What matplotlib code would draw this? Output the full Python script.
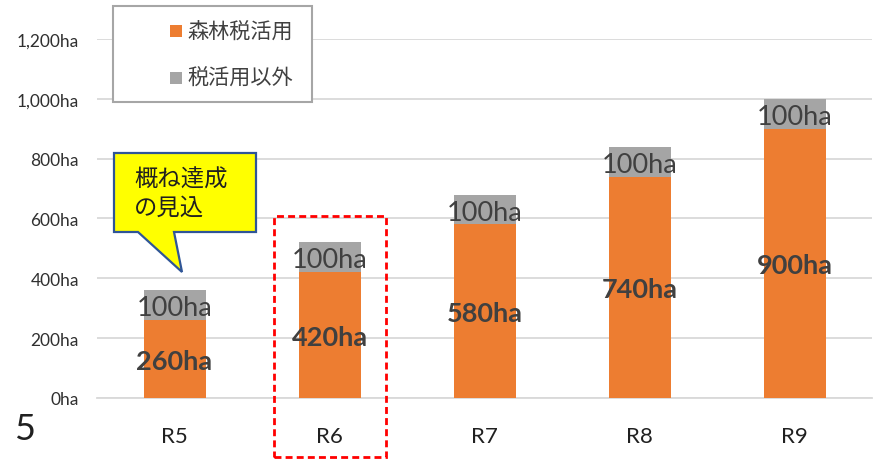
import matplotlib
matplotlib.use("Agg")
import matplotlib.pyplot as plt
from matplotlib.patches import Rectangle, Polygon

plt.rcParams['font.family'] = ['Lato', 'Noto Sans CJK JP', 'DejaVu Sans']

categories = ["R5", "R6", "R7", "R8", "R9"]
forest_tax = [260, 420, 580, 740, 900]
other = [100, 100, 100, 100, 100]
yticks = [0, 200, 400, 600, 800, 1000, 1200]
ytick_labels = ["0ha", "200ha", "400ha", "600ha", "800ha", "1,000ha", "1,200ha"]
legend_labels = ["森林税活用", "税活用以外"]
callout_lines = ["概ね達成", "の見込"]

ORANGE = "#ED7D31"
GRAY = "#A5A5A5"
TXT = "#404040"
W, H = 874, 460

fig = plt.figure(figsize=(W / 100, H / 100), dpi=100)

def px(x, y):
    return (x / W, 1 - y / H)

ax = fig.add_axes([97 / W, 1 - 399 / H, 775 / W, 359 / H])
x = list(range(len(categories)))
ax.bar(x, forest_tax, width=0.4, color=ORANGE, zorder=3)
ax.bar(x, other, width=0.4, bottom=forest_tax, color=GRAY, zorder=3)

for i in x:
    ax.text(i, forest_tax[i] / 2, f"{forest_tax[i]}ha", ha="center", va="center_baseline",
            fontsize=19.5, fontweight="bold", color=TXT, zorder=4)
    ax.text(i, forest_tax[i] + other[i] / 2, f"{other[i]}ha", ha="center", va="center_baseline",
            fontsize=19.5, color=TXT, zorder=4)

ax.set_xlim(-0.5, len(categories) - 0.5)
ax.set_ylim(0, 1200)
ax.set_yticks(yticks)
ax.set_yticklabels(ytick_labels)
ax.set_xticks(x)
ax.set_xticklabels(categories)
ax.tick_params(axis="y", length=0, pad=13, labelsize=12.5, labelcolor="#303030")
ax.tick_params(axis="x", length=0, pad=20, labelsize=16, labelcolor="#202020")
ax.yaxis.grid(True, color="#D9D9D9", lw=1.3, zorder=0)
for s in ["top", "right", "left"]:
    ax.spines[s].set_visible(False)
ax.spines["bottom"].set_color("#D9D9D9")
ax.spines["bottom"].set_linewidth(1.3)
ax.spines["bottom"].set_zorder(1)

# Legend (manual)
lx0, ly0, lx1, ly1 = 113, 7, 312, 103
fig.patches.append(Rectangle(px(lx0, ly1), (lx1 - lx0) / W, (ly1 - ly0) / H,
                             transform=fig.transFigure, facecolor="white",
                             edgecolor="#A6A6A6", lw=1.5, zorder=5))
for lab, col, yy in zip(legend_labels, [ORANGE, GRAY], [32, 79]):
    fig.patches.append(Rectangle(px(170, yy + 6), 12 / W, 12 / H,
                                 transform=fig.transFigure, facecolor=col,
                                 edgecolor="none", zorder=6))
    fig.text(*px(187, yy), lab, ha="left", va="center", fontsize=15.2,
             color=TXT, family=["Noto Sans CJK JP"], zorder=7)

# Callout
pts = [(114, 154), (256, 154), (256, 233), (174, 233), (182, 273), (138, 233), (114, 233)]
fig.patches.append(Polygon([px(a, b) for a, b in pts], closed=True,
                           transform=fig.transFigure, facecolor="#FFFF00",
                           edgecolor="#2F5597", lw=1.6, zorder=5))
for line, yy in zip(callout_lines, [180, 208]):
    fig.text(*px(134, yy), line, ha="left", va="center", fontsize=16.8,
             color="#202020", family=["Noto Sans CJK JP"], zorder=7)

# Red dashed highlight
fig.patches.append(Rectangle(px(274, 458), (386 - 274) / W, (458 - 217) / H,
                             transform=fig.transFigure, facecolor="none",
                             edgecolor="#FF0000", lw=2, linestyle=(0, (2.5, 1.5)),
                             zorder=5))

fig.text(*px(14, 430), "5", ha="left", va="center", fontsize=26, color="#202020")

fig.savefig("out.png", dpi=100)
